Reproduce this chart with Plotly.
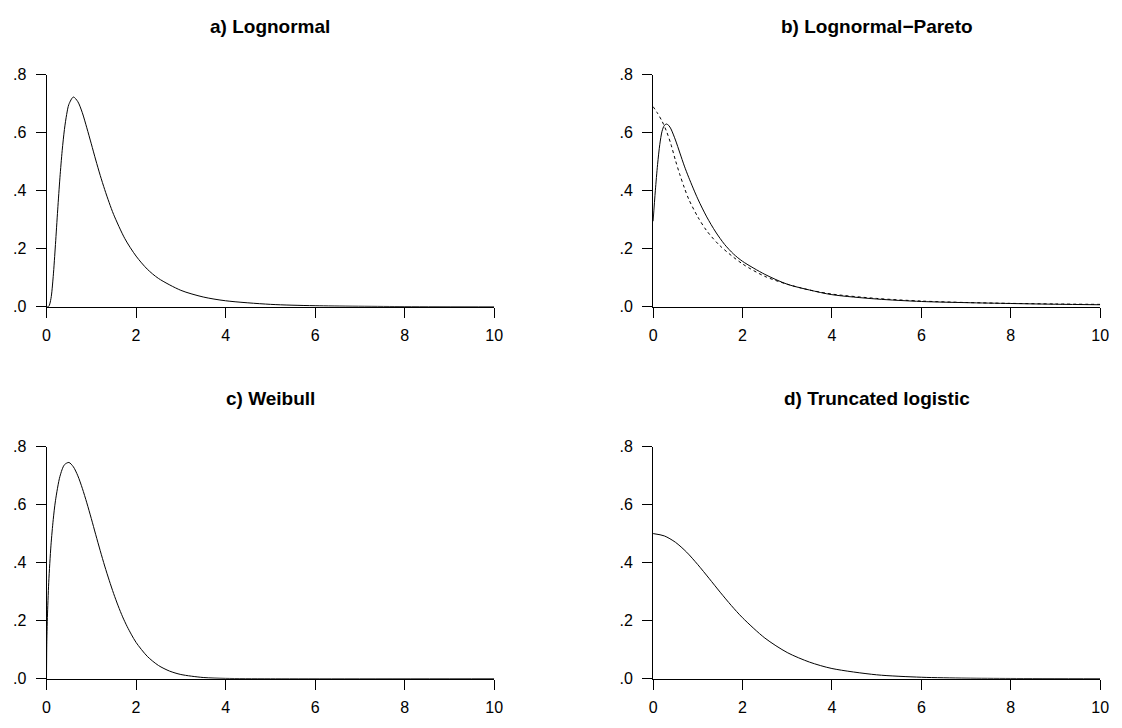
import plotly.graph_objects as go

# ---------------- data ----------------
# a) Lognormal
a_x = [0, 0.05, 0.1, 0.15, 0.2, 0.25, 0.3, 0.35, 0.4, 0.45, 0.5, 0.6, 0.7, 0.8, 0.9,
       1.0, 1.1, 1.2, 1.3, 1.4, 1.5, 1.75, 2.0, 2.25, 2.5, 3.0, 3.5, 4.0, 5.0, 6.0,
       8.0, 10.0]
a_y = [0, 0.0015, 0.029, 0.105, 0.215, 0.334, 0.445, 0.538, 0.611, 0.663, 0.698,
       0.723, 0.707, 0.669, 0.617, 0.562, 0.506, 0.453, 0.404, 0.359, 0.318, 0.235,
       0.175, 0.130, 0.098, 0.057, 0.034, 0.021, 0.0086, 0.0039, 0.001, 0.0003]

# b) Lognormal-Pareto (solid) and comparison curve (dashed)
b_x = [0, 0.05, 0.1, 0.15, 0.2, 0.25, 0.3, 0.35, 0.4, 0.5, 0.6, 0.7, 0.8, 1.0, 1.2,
       1.4, 1.6, 1.8, 2.0, 2.5, 3.0, 3.5, 4.0, 5.0, 6.0, 7.0, 8.0, 9.0, 10.0]
b_y = [0.295, 0.40, 0.49, 0.56, 0.605, 0.625, 0.63, 0.625, 0.613, 0.575, 0.53, 0.485,
       0.445, 0.372, 0.31, 0.258, 0.215, 0.182, 0.157, 0.112, 0.078, 0.058, 0.042,
       0.027, 0.0185, 0.0145, 0.0115, 0.009, 0.0072]
b2_x = [0, 0.1, 0.2, 0.3, 0.4, 0.5, 0.6, 0.7, 0.8, 1.0, 1.2, 1.5, 2.0, 2.5, 3.0, 3.5,
        4.0, 5.0, 6.0, 7.0, 8.0, 9.0, 10.0]
b2_y = [0.69, 0.667, 0.64, 0.605, 0.56, 0.505, 0.455, 0.41, 0.37, 0.31, 0.262, 0.21,
        0.148, 0.105, 0.078, 0.058, 0.044, 0.029, 0.020, 0.015, 0.012, 0.010, 0.0085]

# c) Weibull
c_x = [0, 0.005, 0.01, 0.02, 0.05, 0.1, 0.15, 0.2, 0.3, 0.4, 0.5, 0.6, 0.7, 0.8, 0.9,
       1.0, 1.1, 1.2, 1.3, 1.4, 1.5, 1.6, 1.7, 1.8, 1.9, 2.0, 2.25, 2.5, 2.75, 3.0,
       3.5, 4.0, 5.0, 10.0]
c_y = [0, 0.106, 0.150, 0.2115, 0.332, 0.460, 0.548, 0.613, 0.697, 0.737, 0.745,
       0.730, 0.699, 0.656, 0.606, 0.552, 0.496, 0.441, 0.388, 0.339, 0.293, 0.251,
       0.213, 0.180, 0.151, 0.125, 0.077, 0.0455, 0.026, 0.0144, 0.004, 0.001, 0.0,
       0.0]

# d) Truncated logistic
d_x = [0, 0.25, 0.5, 0.75, 1.0, 1.25, 1.5, 1.75, 2.0, 2.5, 3.0, 3.5, 4.0, 5.0, 6.0,
       7.0, 8.0, 10.0]
d_y = [0.5, 0.492, 0.470, 0.436, 0.393, 0.346, 0.298, 0.252, 0.210, 0.140, 0.090,
       0.057, 0.035, 0.0133, 0.0049, 0.0018, 0.0007, 0.0001]

titles = ["a) Lognormal", "b) Lognormal\u2212Pareto", "c) Weibull", "d) Truncated logistic"]
x_ticks = [0, 2, 4, 6, 8, 10]
x_tick_text = ["0", "2", "4", "6", "8", "10"]
y_ticks = [0, 0.2, 0.4, 0.6, 0.8]
y_tick_text = [".0", ".2", ".4", ".6", ".8"]

# ---------------- figure ----------------
W, H = 1122, 728
FONT = "Liberation Sans, Arial, Helvetica, sans-serif"

# panel pixel boxes: (x0, x1, y_top, y_bottom)
boxes = [(43, 496, 68.3, 306), (656.7, 1109, 68.3, 306),
         (43, 496, 449, 686.7), (656.7, 1109, 449, 686.7)]

fig = go.Figure()
series = [[(a_x, a_y, "solid")],
          [(b2_x, b2_y, "3px,3px"), (b_x, b_y, "solid")],
          [(c_x, c_y, "solid")],
          [(d_x, d_y, "solid")]]

for i, (box, ser) in enumerate(zip(boxes, series)):
    n = "" if i == 0 else str(i + 1)
    x0, x1, yt, yb = box
    for xs, ys, dash in ser:
        fig.add_trace(go.Scatter(x=xs, y=ys, mode="lines",
                                 line=dict(color="black", width=1, dash=dash,
                                           shape="spline", smoothing=0.8),
                                 xaxis="x" + n, yaxis="y" + n,
                                 showlegend=False, cliponaxis=False))
    axis_common = dict(showline=True, linecolor="black", linewidth=1,
                       ticks="outside", ticklen=10, tickwidth=1, tickcolor="black",
                       showgrid=False, zeroline=False, fixedrange=True,
                       tickfont=dict(family=FONT, size=16, color="black"))
    fig.layout["xaxis" + n] = dict(axis_common, domain=[x0 / W, x1 / W],
                                   range=[0, 10], tickvals=x_ticks,
                                   ticktext=x_tick_text, anchor="y" + n,
                                   ticklabelstandoff=4)
    fig.layout["yaxis" + n] = dict(axis_common, domain=[1 - yb / H, 1 - yt / H],
                                   range=[0, 0.8], tickvals=y_ticks,
                                   ticktext=y_tick_text, anchor="x" + n,
                                   ticklabelstandoff=6)
    fig.add_annotation(text="<b>" + titles[i] + "</b>", xref="paper", yref="paper",
                       x=(x0 + x1) / 2 / W, y=1 - (yt - 49) / H,
                       xanchor="center", yanchor="middle", showarrow=False,
                       font=dict(family=FONT, size=19, color="black"))

fig.update_layout(width=W, height=H, autosize=False,
                  margin=dict(l=0, r=0, t=0, b=0),
                  paper_bgcolor="white", plot_bgcolor="white")

fig.write_html("out.html")
